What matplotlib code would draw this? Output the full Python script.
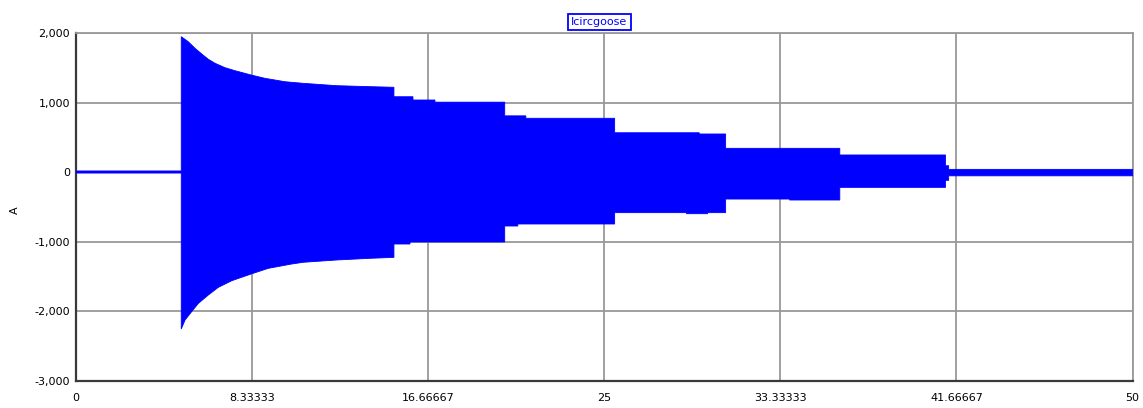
import numpy as np
import matplotlib
matplotlib.use("Agg")
import matplotlib.pyplot as plt
from matplotlib.ticker import FuncFormatter

# Envelope of the circuit current (A) against time; the oscillation is so dense
# that it renders as a solid band between the upper and lower peaks
t_upper = [0.0, 5.0, 5.0, 5.33, 5.65, 5.97, 6.28, 6.6, 7.07, 7.54, 8.3, 8.96,
           9.91, 10.77, 12.35, 13.92, 15.06, 15.06, 15.96, 15.96, 17.0, 17.0, 20.3,
           20.3, 21.3, 21.3, 25.5, 25.5, 29.5, 29.5, 30.75, 30.75, 36.15,
           36.15, 41.15, 41.15, 41.3, 41.3, 50.0]
i_upper = [15, 15, 1947, 1875, 1780, 1698, 1622, 1564, 1501, 1458, 1396, 1348,
           1299, 1276, 1242, 1228, 1219, 1083, 1083, 1036, 1036, 1005, 1005,
           808, 808, 773, 773, 565, 565, 547, 547, 341, 341,
           245, 245, 90, 90, 38, 38]

t_lower = [0.0, 5.0, 5.0, 5.18, 5.49, 5.81, 6.28, 6.75, 7.39, 8.3, 9.12,
           10.22, 10.77, 12.35, 13.92, 15.06, 15.06, 15.82, 15.82, 20.3, 20.3,
           20.92, 20.92, 25.5, 25.5, 28.9, 28.9, 29.9, 29.9, 30.75, 30.75,
           33.78, 33.78, 36.15, 36.15, 41.15, 41.15, 41.3, 41.3, 50.0]
i_lower = [-15, -15, -2259, -2130, -2010, -1890, -1770, -1660, -1564, -1468, -1386,
           -1324, -1299, -1266, -1242, -1228, -1036, -1036, -1007, -1007, -777,
           -777, -748, -748, -585, -585, -600, -600, -585, -585, -389,
           -389, -403, -403, -221, -221, -120, -120, -55, -55]

x_ticks = [0, 50 / 6, 100 / 6, 25, 100 / 3, 125 / 3, 50]
x_tick_labels = ["0", "8.33333", "16.66667", "25", "33.33333", "41.66667", "50"]
y_ticks = [-3000, -2000, -1000, 0, 1000, 2000]

plt.rcParams["font.family"] = ["DejaVu Sans"]
plt.rcParams["font.size"] = 8

fig = plt.figure(figsize=(11.43, 4.08), dpi=100)
ax = fig.add_axes([0.0661, 0.0674, 0.9248, 0.8517])

# band between the peaks: upper path forward, lower path back
poly_t = np.concatenate([t_upper, t_lower[::-1]])
poly_i = np.concatenate([i_upper, i_lower[::-1]])
ax.fill(poly_t, poly_i, color="#0000ff", linewidth=0.6, edgecolor="#0000ff", zorder=3)

ax.set_xlim(0, 50)
ax.set_ylim(-3000, 2000)
ax.set_xticks(x_ticks)
ax.set_xticklabels(x_tick_labels)
ax.set_yticks(y_ticks)
ax.yaxis.set_major_formatter(FuncFormatter(lambda v, _: f"{int(v):,}"))
ax.tick_params(length=0, pad=4, labelcolor="black")
ax.tick_params(axis="x", pad=9)

ax.grid(True, color="#999999", linewidth=1.3, zorder=1)
ax.set_axisbelow(True)
for side in ("top", "right"):
    ax.spines[side].set_color("#999999")
    ax.spines[side].set_linewidth(1.3)
for side in ("left", "bottom"):
    ax.spines[side].set_color("#3a3a3a")
    ax.spines[side].set_linewidth(1.6)

fig.text(15 / 1143, 1 - 210 / 408, "A", rotation=90, ha="center", va="center", fontsize=8)

fig.text(599.5 / 1143, 1 - 22 / 408, "Icircgoose", ha="center", va="center",
         color="#0000ff", fontsize=8,
         bbox=dict(boxstyle="square,pad=0.3", facecolor="white", edgecolor="#0000ff", linewidth=1.3))

fig.savefig("out.png", dpi=100)
